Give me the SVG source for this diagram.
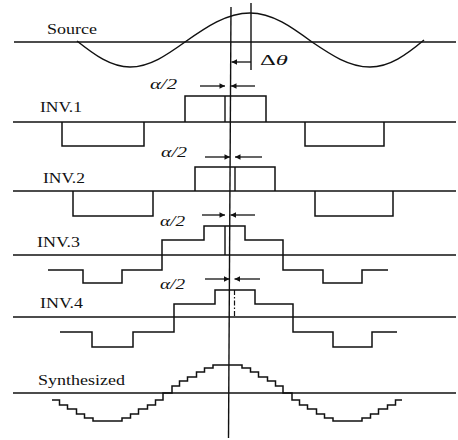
<svg xmlns="http://www.w3.org/2000/svg" width="458" height="440" viewBox="0 0 458 440">
<defs>
<style>
.w{fill:none;stroke:#111;stroke-width:1.5;stroke-linejoin:miter}
.b{fill:none;stroke:#111;stroke-width:1.4}
.ln{stroke:#111;stroke-width:1.4;fill:none}
.ds{stroke:#111;stroke-width:1.2;fill:none;stroke-dasharray:5 2 1.5 2}
.ar{stroke:#111;stroke-width:1.3;fill:none;marker-end:url(#ah)}
.t{font-family:"Liberation Serif","Times New Roman",serif;font-size:15px;fill:#111}
.m{font-family:"Liberation Serif","Times New Roman",serif;font-size:14px;font-style:italic;fill:#111}
</style>
<marker id="ah" viewBox="0 0 10 10" refX="10" refY="5" markerWidth="8" markerHeight="5.5" markerUnits="userSpaceOnUse" orient="auto">
<path d="M0,0 L10,5 L0,10 Z" fill="#111"/>
</marker>
</defs>
<rect width="458" height="440" fill="#fff"/>

<g id="source">
<line class="b" x1="14" y1="42" x2="456" y2="42"/>
<path class="w" d="M77,41 C94.3,54.8 110.9,67 130,67 C149.8,67 167.1,54.8 185,42 C206.2,27.1 226.6,13 250,13 C272.3,13 291.8,27.1 312,42 C330.9,54.8 349.1,67 370,67 C389.4,67 406.4,54.8 424,40"/>
<text class="t" x="47" y="34" textLength="50" lengthAdjust="spacingAndGlyphs">Source</text>
</g>

<g id="inv1">
<line class="b" x1="13" y1="122" x2="456" y2="122"/>
<path class="w" d="M185,122 V96 H266 V122"/>
<path class="w" d="M62,122 V146 H144 V122"/>
<path class="w" d="M305,122 V146 H384 V122"/>
<line class="ln" x1="225" y1="96" x2="225" y2="122"/>
<text class="t" x="40" y="112" textLength="42" lengthAdjust="spacingAndGlyphs">INV.1</text>
<text class="m" x="150" y="89" textLength="27" lengthAdjust="spacingAndGlyphs">α/2</text>
</g>

<g id="inv2">
<line class="b" x1="13" y1="191" x2="456" y2="191"/>
<path class="w" d="M195,191 V167 H275 V191"/>
<path class="w" d="M73,191 V216 H153 V191"/>
<path class="w" d="M315,191 V216 H393 V191"/>
<line class="ln" x1="235" y1="167" x2="235" y2="191"/>
<text class="t" x="43" y="183" textLength="42" lengthAdjust="spacingAndGlyphs">INV.2</text>
<text class="m" x="161" y="157" textLength="26" lengthAdjust="spacingAndGlyphs">α/2</text>
</g>

<g id="inv3">
<line class="b" x1="13" y1="255" x2="456" y2="255"/>
<path class="w" d="M48,270 H83 V283 H122 V270 H162 V240 H204 V226 H245 V240 H283 V270 H323 V283 H362 V270 H388"/>
<line class="ln" x1="225" y1="226" x2="225" y2="255"/>
<text class="t" x="37" y="247" textLength="43" lengthAdjust="spacingAndGlyphs">INV.3</text>
<text class="m" x="160" y="226" textLength="25" lengthAdjust="spacingAndGlyphs">α/2</text>
</g>

<g id="inv4">
<line class="b" x1="13" y1="317" x2="456" y2="317"/>
<path class="w" d="M60,332 H92 V347 H133 V332 H174 V304 H215 V290 H255 V304 H293 V332 H333 V347 H372 V332 H397"/>
<line class="ds" x1="234.5" y1="290" x2="234.5" y2="317"/>
<text class="t" x="40" y="308" textLength="43" lengthAdjust="spacingAndGlyphs">INV.4</text>
<text class="m" x="160" y="289" textLength="25" lengthAdjust="spacingAndGlyphs">α/2</text>
</g>

<g id="synthesized">
<line class="b" x1="13" y1="393" x2="456" y2="393"/>
<path class="w" d="M52,400 H59.5 V405 H67.5 V409 H76.5 V414 H84.5 V418 H93 V421 H122 V418 H130.5 V414 H138.5 V409 H147.5 V405 H155.5 V400 H163 V393 H172 V386 H179.5 V381 H187.5 V377 H196.5 V372 H204.5 V368 H213 V365 H242 V368 H250.5 V372 H258.5 V377 H267.5 V381 H275.5 V386 H283 V393 H292 V400 H299.5 V405 H307.5 V409 H316.5 V414 H324.5 V418 H333 V421 H362 V418 H370.5 V414 H378.5 V409 H387.5 V405 H395.5 V400 H402"/>
<text class="t" x="38" y="385" textLength="87" lengthAdjust="spacingAndGlyphs">Synthesized</text>
</g>

<g id="connectors">
<line class="ln" x1="231" y1="7" x2="228.5" y2="438"/>
<line class="ln" x1="251" y1="3" x2="251" y2="70"/>
<line class="ar" x1="251" y1="62" x2="231.5" y2="62"/>
<text class="t" x="260" y="65" textLength="28" lengthAdjust="spacingAndGlyphs">Δ<tspan font-style="italic">θ</tspan></text>
<line class="ar" x1="200" y1="86" x2="225" y2="86"/>
<line class="ar" x1="255" y1="86" x2="231" y2="86"/>
<line class="ar" x1="205" y1="157" x2="230" y2="157"/>
<line class="ar" x1="262" y1="157" x2="235" y2="157"/>
<line class="ar" x1="202" y1="215" x2="225" y2="215"/>
<line class="ar" x1="255" y1="215" x2="230.5" y2="215"/>
<line class="ar" x1="205" y1="279" x2="229.5" y2="279"/>
<line class="ar" x1="260" y1="279" x2="234.5" y2="279"/>
</g>
</svg>
